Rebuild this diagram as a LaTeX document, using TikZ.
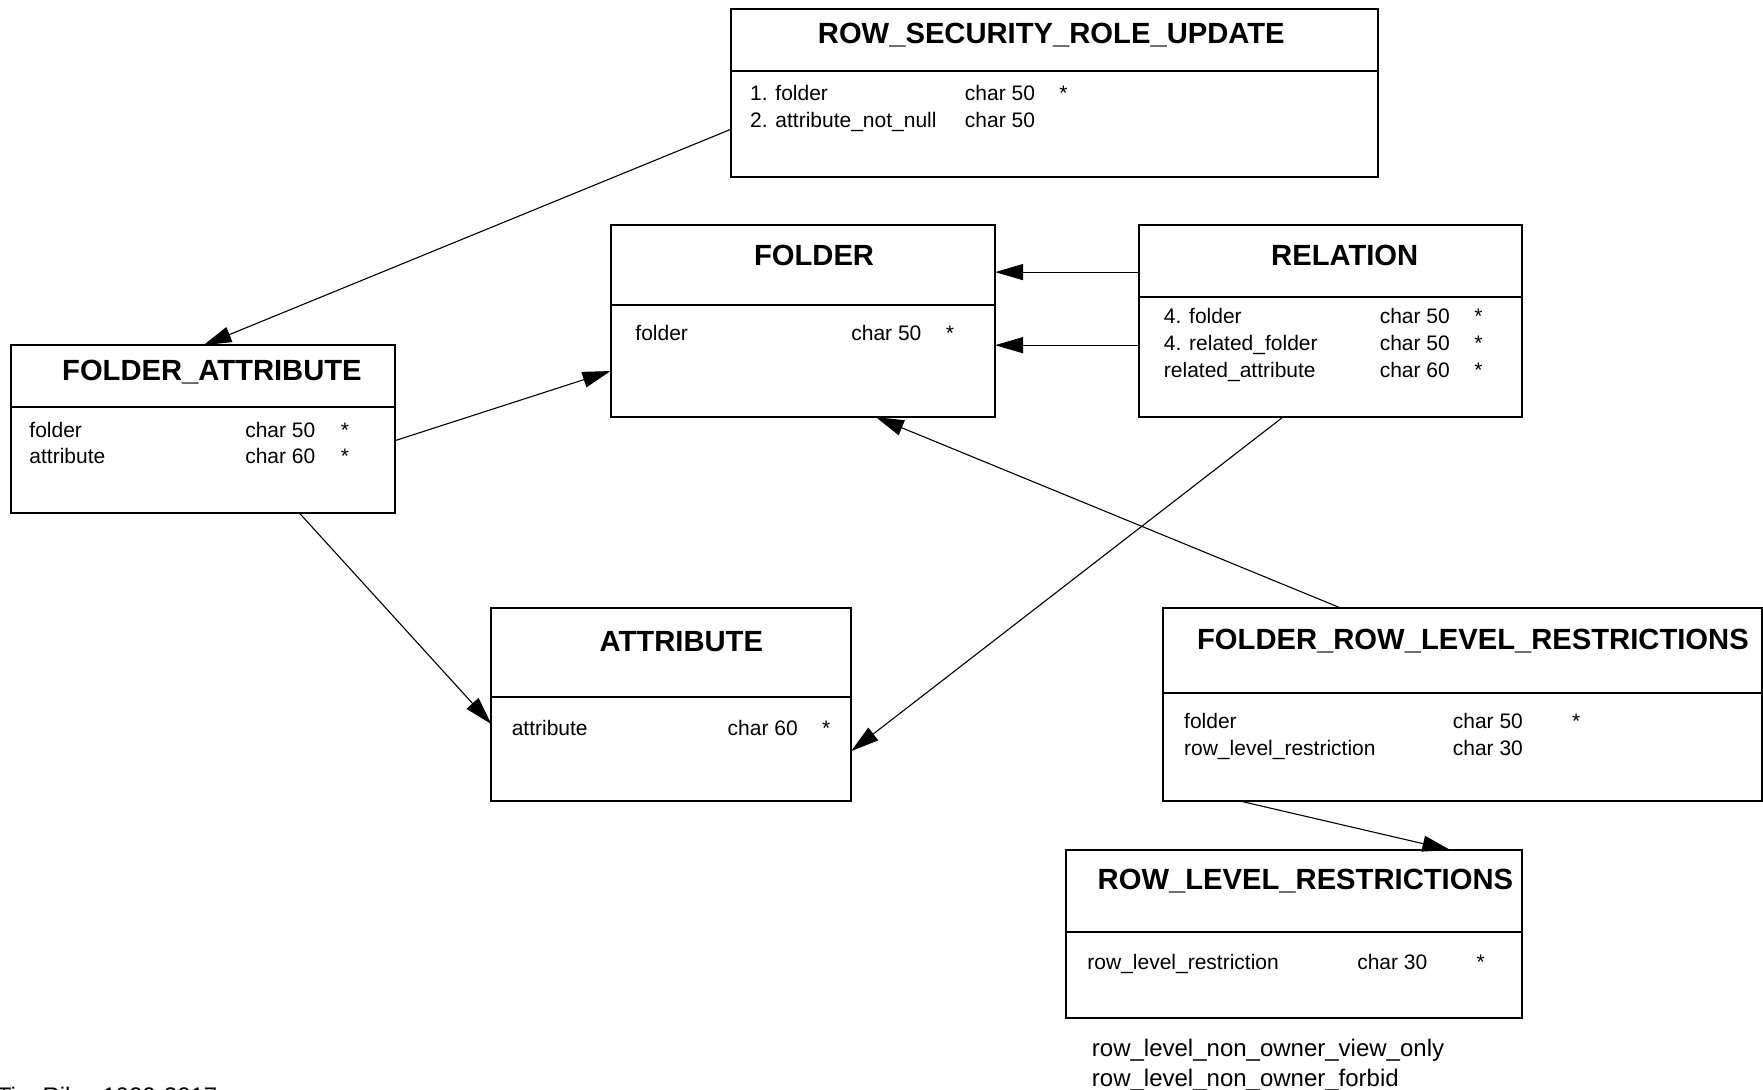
\documentclass[tikz,border=0pt]{standalone}
\usepackage{fontspec}
\setmainfont{Liberation Sans}
\usetikzlibrary{arrows.meta,calc}
\tikzset{
  tbl/.style={draw, line width=2pt, anchor=north west, inner sep=0pt, outer sep=0pt},
  ttl/.style={font=\fontsize{29.2}{32}\selectfont\bfseries, anchor=base, inner sep=0pt},
  fld/.style={font=\fontsize{21}{24}\selectfont, anchor=base west, inner sep=0pt},
  note/.style={font=\fontsize{24}{28}\selectfont, anchor=base west, inner sep=0pt},
  divl/.style={line width=2pt},
  rel/.style={line width=1.1pt, -{Triangle[length=28pt,width=16pt]}},
}
\begin{document}
\begin{tikzpicture}[x=1.1244pt,y=-1.1244pt]
\useasboundingbox (0,0) rectangle (1568,969.4);

% ROW_SECURITY_ROLE_UPDATE
\node[tbl, minimum width={576*1.1244pt}, minimum height={149*1.1244pt}] (rsru) at (650,8) {};
\draw[divl] ($(rsru.north west)+(0,55)$) -- ($(rsru.north east)+(0,55)$);
\node[ttl] (rsruT) at (935,39) {ROW\_SECURITY\_ROLE\_UPDATE};
\node[fld] (rsru1a) at (667,89.5) {1. folder};
\node[fld] (rsru1b) at (858,89.5) {char 50};
\node[fld] (rsru1c) at (942,89.5) {*};
\node[fld] (rsru2a) at (667,113.5) {2. attribute\_not\_null};
\node[fld] (rsru2b) at (858,113.5) {char 50};

% FOLDER
\node[tbl, minimum width={342*1.1244pt}, minimum height={171*1.1244pt}] (folder) at (543,200) {};
\draw[divl] ($(folder.north west)+(0,71)$) -- ($(folder.north east)+(0,71)$);
\node[ttl] (folderT) at (724,236) {FOLDER};
\node[fld] (folder1a) at (565,303) {folder};
\node[fld] (folder1b) at (757,303) {char 50};
\node[fld] (folder1c) at (841,303) {*};

% RELATION
\node[tbl, minimum width={341*1.1244pt}, minimum height={171*1.1244pt}] (rel) at (1013,200) {};
\draw[divl] ($(rel.north west)+(0,64)$) -- ($(rel.north east)+(0,64)$);
\node[ttl] (relT) at (1196,236) {RELATION};
\node[fld] (rel1a) at (1035,288) {4. folder};
\node[fld] (rel1b) at (1227,288) {char 50};
\node[fld] (rel1c) at (1311,288) {*};
\node[fld] (rel2a) at (1035,312) {4. related\_folder};
\node[fld] (rel2b) at (1227,312) {char 50};
\node[fld] (rel2c) at (1311,312) {*};
\node[fld] (rel3a) at (1035,336) {related\_attribute};
\node[fld] (rel3b) at (1227,336) {char 60};
\node[fld] (rel3c) at (1311,336) {*};

% FOLDER_ATTRIBUTE
\node[tbl, minimum width={341*1.1244pt}, minimum height={149*1.1244pt}] (fa) at (10,307) {};
\draw[divl] ($(fa.north west)+(0,55)$) -- ($(fa.north east)+(0,55)$);
\node[ttl] (faT) at (188.5,338) {FOLDER\_ATTRIBUTE};
\node[fld] (fa1a) at (26,389) {folder};
\node[fld] (fa1b) at (218,389) {char 50};
\node[fld] (fa1c) at (303,389) {*};
\node[fld] (fa2a) at (26,412) {attribute};
\node[fld] (fa2b) at (218,412) {char 60};
\node[fld] (fa2c) at (303,412) {*};

% ATTRIBUTE
\node[tbl, minimum width={320*1.1244pt}, minimum height={171*1.1244pt}] (attr) at (437,541) {};
\draw[divl] ($(attr.north west)+(0,79)$) -- ($(attr.north east)+(0,79)$);
\node[ttl] (attrT) at (606,579) {ATTRIBUTE};
\node[fld] (attr1a) at (455,654) {attribute};
\node[fld] (attr1b) at (647,654) {char 60};
\node[fld] (attr1c) at (731,654) {*};

% FOLDER_ROW_LEVEL_RESTRICTIONS
\node[tbl, minimum width={533*1.1244pt}, minimum height={171*1.1244pt}] (frlr) at (1034,541) {};
\draw[divl] ($(frlr.north west)+(0,75)$) -- ($(frlr.north east)+(0,75)$);
\node[ttl] (frlrT) at (1310,578) {FOLDER\_ROW\_LEVEL\_RESTRICTIONS};
\node[fld] (frlr1a) at (1053,648) {folder};
\node[fld] (frlr1b) at (1292,648) {char 50};
\node[fld] (frlr1c) at (1398,648) {*};
\node[fld] (frlr2a) at (1053,672) {row\_level\_restriction};
\node[fld] (frlr2b) at (1292,672) {char 30};

% ROW_LEVEL_RESTRICTIONS
\node[tbl, minimum width={406*1.1244pt}, minimum height={149*1.1244pt}] (rlr) at (948,756) {};
\draw[divl] ($(rlr.north west)+(0,73)$) -- ($(rlr.north east)+(0,73)$);
\node[ttl] (rlrT) at (1161,791) {ROW\_LEVEL\_RESTRICTIONS};
\node[fld] (rlr1a) at (967,862) {row\_level\_restriction};
\node[fld] (rlr1b) at (1207,862) {char 30};
\node[fld] (rlr1c) at (1313,862) {*};

% notes
\node[note] (n1) at (971,940) {row\_level\_non\_owner\_view\_only};
\node[note] (n2) at (971,966) {row\_level\_non\_owner\_forbid};
\node[note] (credit) at (-3,982) {Tim Riley 1999-2017};

% connectors
\draw[rel] ($(rsru.north west)+(0,107)$) -- ($(fa.north west)+(171,0)$);
\draw[rel] ($(rel.north west)+(0,42)$) -- ($(folder.north east)+(0,42)$);
\draw[rel] ($(rel.north west)+(0,107)$) -- ($(folder.north east)+(0,107)$);
\draw[rel] ($(fa.north east)+(0,85)$) -- ($(folder.north west)+(0,130)$);
\draw[rel] ($(fa.south west)+(256,0)$) -- ($(attr.north west)+(0,103)$);
\draw[rel] ($(rel.south west)+(128,0)$) -- ($(attr.north east)+(0,127)$);
\draw[rel] ($(frlr.north west)+(159,0)$) -- ($(folder.south west)+(236,0)$);
\draw[rel] ($(frlr.south west)+(67,0)$) -- ($(rlr.north west)+(342,0)$);
\end{tikzpicture}
\end{document}
